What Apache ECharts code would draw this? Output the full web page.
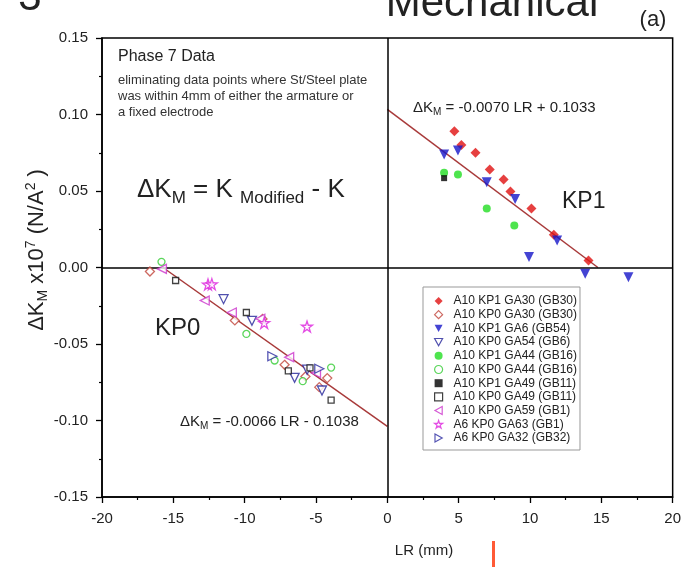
<!DOCTYPE html>
<html>
<head>
<meta charset="utf-8">
<script src="https://cdn.jsdelivr.net/npm/echarts@6/dist/echarts.min.js"></script>
<style>
html,body{margin:0;padding:0;background:#fff;}
#chart{width:684px;height:567px;}
</style>
</head>
<body>
<div id="chart"></div>
<script>
// ---- data ----
const xTicks = [-20, -15, -10, -5, 0, 5, 10, 15, 20];
const yTicks = [-0.15, -0.10, -0.05, 0.00, 0.05, 0.10, 0.15];

const kp1_ga30 = [[4.70,0.089],[5.19,0.080],[6.18,0.075],[7.18,0.064],[8.15,0.0575],[8.63,0.0497],[10.1,0.0386],[11.67,0.0214],[14.1,0.0046]];
const kp0_ga30 = [[-16.64,-0.0026],[-10.69,-0.0346],[-8.75,-0.0336],[-7.2,-0.0636],[-5.74,-0.0712],[-4.77,-0.0782],[-4.21,-0.0723]];
const kp1_ga6  = [[3.98,0.0738],[4.95,0.0765],[6.97,0.0558],[8.96,0.0447],[9.93,0.0068],[11.9,0.0176],[13.87,-0.0041],[16.9,-0.0063]];
const kp0_ga54 = [[-11.48,-0.0207],[-9.49,-0.0349],[-6.5,-0.0721],[-5.62,-0.0668],[-4.58,-0.0804]];
const kp1_ga44 = [[3.98,0.0619],[4.95,0.0608],[6.97,0.0386],[8.9,0.0275]];
const kp0_ga44 = [[-15.83,0.0037],[-9.88,-0.0434],[-7.9,-0.0608],[-5.93,-0.0743],[-3.94,-0.0654]];
const kp1_ga49 = [[3.98,0.0584]];
const kp0_ga49 = [[-14.84,-0.0085],[-9.88,-0.0294],[-6.94,-0.0675],[-5.42,-0.0656],[-3.94,-0.0867]];
const kp0_ga59 = [[-15.8,-0.0009],[-12.8,-0.0216],[-10.9,-0.0294],[-8.9,-0.0335],[-6.88,-0.0586],[-5.0,-0.069]];
const a6_ga63  = [[-12.57,-0.0111],[-12.3,-0.0109],[-8.63,-0.0362],[-5.63,-0.0386]];
const a6_ga32  = [[-8.06,-0.058],[-4.77,-0.0662]];

const fitKP1 = [[0, 0.1033],[14.76, 0]];
const fitKP0 = [[-15.73, 0],[0, -0.1038]];

const seriesNames = [
  'A10 KP1 GA30 (GB30)','A10 KP0 GA30 (GB30)','A10 KP1 GA6 (GB54)','A10 KP0 GA54 (GB6)',
  'A10 KP1 GA44 (GB16)','A10 KP0 GA44 (GB16)','A10 KP1 GA49 (GB11)','A10 KP0 GA49 (GB11)',
  'A10 KP0 GA59 (GB1)','A6 KP0 GA63 (GB1)','A6 KP0 GA32 (GB32)'
];

// ---- styling ----
const FONT = '"Liberation Sans", Arial, sans-serif';
const DOWN = 'path://M0,0L10,0L5,9Z';
const LEFT = 'path://M9,0L9,10L0,5Z';
const RIGHT = 'path://M0,0L0,10L9,5Z';
const STAR = 'path://M5,0L6.2,3.6L10,3.6L6.9,5.8L8.1,9.5L5,7.2L1.9,9.5L3.1,5.8L0,3.6L3.8,3.6Z';

const defs = [
  {data:kp1_ga30, symbol:'diamond', size:10, color:'#e01010', hollow:false},
  {data:kp0_ga30, symbol:'diamond', size:9, color:'#c0443a', hollow:true},
  {data:kp1_ga6,  symbol:DOWN, size:10, color:'#1515c8', hollow:false},
  {data:kp0_ga54, symbol:DOWN, size:9, color:'#24249a', hollow:true},
  {data:kp1_ga44, symbol:'circle', size:8, color:'#22dd22', hollow:false},
  {data:kp0_ga44, symbol:'circle', size:7, color:'#33cc33', hollow:true},
  {data:kp1_ga49, symbol:'rect', size:6, color:'#000000', hollow:false},
  {data:kp0_ga49, symbol:'rect', size:6, color:'#111111', hollow:true},
  {data:kp0_ga59, symbol:LEFT, size:9, color:'#cc33cc', hollow:true},
  {data:a6_ga63,  symbol:STAR, size:11, color:'#dd22dd', hollow:true},
  {data:a6_ga32,  symbol:RIGHT, size:9, color:'#2a2aa0', hollow:true}
];

const series = defs.map((d, i) => ({
  name: seriesNames[i],
  type: 'scatter',
  data: d.data,
  symbol: d.symbol,
  symbolSize: d.size,
  itemStyle: d.hollow ? {color:'#ffffff', borderColor:d.color, borderWidth:1.3} : {color:d.color, borderWidth:0},
  z: 5
}));

series.push({
  name:'fitKP1', type:'line', data:fitKP1, symbol:'none',
  lineStyle:{color:'#a83a3a', width:1.5}, z:4, silent:true,
  markLine:{
    silent:true, symbol:['none','none'], label:{show:false},
    lineStyle:{color:'#000', width:1.5, type:'solid'},
    data:[{xAxis:0},{yAxis:0}]
  }
});
series.push({
  name:'fitKP0', type:'line', data:fitKP0, symbol:'none',
  lineStyle:{color:'#a83a3a', width:1.5}, z:4, silent:true
});

const legendData = defs.map((d, i) => ({
  name: seriesNames[i],
  icon: d.symbol,
  itemStyle: d.hollow ? {color:'#ffffff', borderColor:d.color, borderWidth:1.2} : {color:d.color, borderWidth:0}
}));

const chart = echarts.init(document.getElementById('chart'), null, {renderer:'canvas'});
chart.setOption({
  animation:false,
  backgroundColor:'#fff',
  grid:{left:102, top:38, width:580, height:459, show:true, borderColor:'#000', borderWidth:1.5, backgroundColor:'transparent'},
  xAxis:{
    type:'value', min:xTicks[0], max:xTicks[xTicks.length-1], interval:5,
    axisLine:{show:true, onZero:false, lineStyle:{color:'#000', width:1.5}},
    axisTick:{show:true, length:6, lineStyle:{color:'#000', width:1.3}},
    minorTick:{show:true, splitNumber:2, length:3, lineStyle:{color:'#000', width:1.2}},
    splitLine:{show:false},
    axisLabel:{fontSize:15, color:'#222', fontFamily:FONT, margin:14, formatter:v => String(v)}
  },
  yAxis:{
    type:'value', min:yTicks[0], max:yTicks[yTicks.length-1], interval:0.05,
    axisLine:{show:true, onZero:false, lineStyle:{color:'#000', width:1.5}},
    axisTick:{show:true, length:6, lineStyle:{color:'#000', width:1.3}},
    minorTick:{show:true, splitNumber:2, length:3, lineStyle:{color:'#000', width:1.2}},
    splitLine:{show:false},
    axisLabel:{fontSize:15, color:'#222', fontFamily:FONT, margin:14, formatter:v => v.toFixed(2)}
  },
  legend:{
    orient:'vertical', left:423, top:287, padding:[8,3,6,11], itemGap:1.7,
    itemWidth:8, itemHeight:8, borderColor:'#999', borderWidth:1, backgroundColor:'#fff',
    textStyle:{fontSize:12, color:'#222', fontFamily:FONT, padding:[0,0,0,6]},
    data:legendData, selectedMode:false
  },
  graphic:[
    {type:'text', x:492, y:4, style:{text:'Mechanical', font:'42px '+FONT, fill:'#222', align:'center', verticalAlign:'middle'}},
    {type:'text', x:30, y:-2, style:{text:'3', font:'42px '+FONT, fill:'#222', align:'center', verticalAlign:'middle'}},
    {type:'text', x:653, y:20, style:{text:'(a)', font:'22px '+FONT, fill:'#222', align:'center', verticalAlign:'middle'}},
    {type:'text', x:118, y:57, style:{text:'Phase 7 Data', font:'16px '+FONT, fill:'#222', verticalAlign:'middle'}},
    {type:'text', x:118, y:72, style:{text:'eliminating data points where St/Steel plate\nwas within 4mm of either the armature or\na fixed electrode', font:'13px '+FONT, fill:'#333', verticalAlign:'top', lineHeight:16.2}},
    {type:'text', x:137, y:190, style:{
      text:'{n|ΔK}{s|M}{n| = K }{s|Modified}{n| - K}',
      verticalAlign:'middle', fill:'#222',
      rich:{n:{fontSize:26, fontFamily:FONT, lineHeight:30, fill:'#222'}, s:{fontSize:17, fontFamily:FONT, lineHeight:18, padding:[16,0,0,0], fill:'#222'}}
    }},
    {type:'text', x:413, y:108, style:{
      text:'{n|ΔK}{s|M}{n| = -0.0070 LR + 0.1033}',
      verticalAlign:'middle', fill:'#222',
      rich:{n:{fontSize:15, fontFamily:FONT, lineHeight:17, fill:'#222'}, s:{fontSize:10, fontFamily:FONT, lineHeight:11, padding:[9,0,0,0], fill:'#222'}}
    }},
    {type:'text', x:180, y:422, style:{
      text:'{n|ΔK}{s|M}{n| = -0.0066 LR - 0.1038}',
      verticalAlign:'middle', fill:'#222',
      rich:{n:{fontSize:15, fontFamily:FONT, lineHeight:17, fill:'#222'}, s:{fontSize:10, fontFamily:FONT, lineHeight:11, padding:[9,0,0,0], fill:'#222'}}
    }},
    {type:'text', x:562, y:202, style:{text:'KP1', font:'23px '+FONT, fill:'#222', verticalAlign:'middle'}},
    {type:'text', x:155, y:328, style:{text:'KP0', font:'24px '+FONT, fill:'#222', verticalAlign:'middle'}},
    {type:'text', x:424, y:551, style:{text:'LR (mm)', font:'15px '+FONT, fill:'#222', align:'center', verticalAlign:'middle'}},
    {type:'text', x:37, y:250, rotation:Math.PI/2, style:{
      text:'{n|ΔK}{s|M}{n| x10}{p|7}{n| (N/A}{p|2}{n| )}',
      align:'center', verticalAlign:'middle', fill:'#222',
      rich:{n:{fontSize:22, fontFamily:FONT, lineHeight:24, fill:'#222'},
            s:{fontSize:14, fontFamily:FONT, lineHeight:15, padding:[12,0,0,0], fill:'#222'},
            p:{fontSize:14, fontFamily:FONT, lineHeight:15, padding:[0,0,12,0], fill:'#222'}}
    }},
    {type:'rect', shape:{x:492, y:541, width:3, height:26}, style:{fill:'#ff5a36'}}
  ],
  series:series
});
</script>
</body>
</html>
